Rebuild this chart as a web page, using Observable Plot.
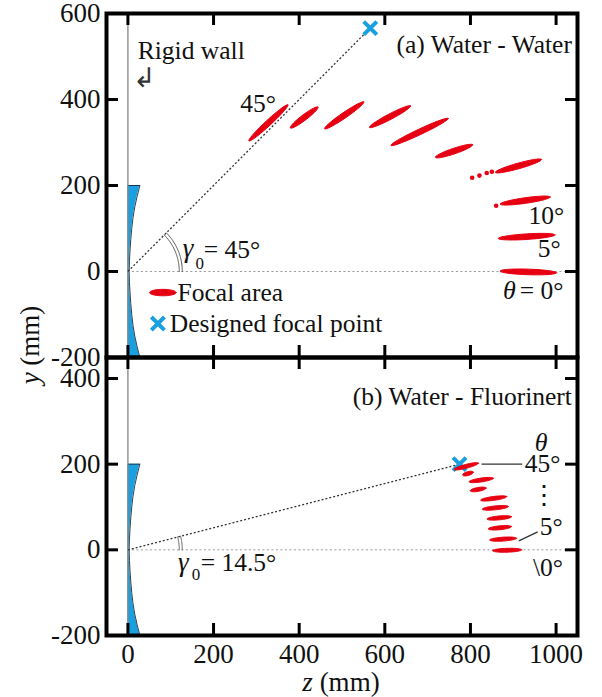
<!DOCTYPE html>
<html><head><meta charset="utf-8">
<script src="https://cdn.jsdelivr.net/npm/d3@7"></script>
<script src="https://cdn.jsdelivr.net/npm/@observablehq/plot@0.6"></script>
<style>
body{margin:0;background:#fff;}
#wrap{position:relative;width:602px;height:697px;font-family:"Liberation Serif","Times New Roman",serif;color:#111;}
#wrap > div.p{position:absolute;left:0;}
.lab{position:absolute;font-size:27px;white-space:nowrap;line-height:1;}
</style></head><body>
<div id="wrap">
 <div class="p" id="top" style="top:0"></div>
 <div class="p" id="bot" style="top:357px"></div>
 <div class="lab" style="left:341px;top:669px;transform:translateX(-50%)"><i>z</i> (mm)</div>
 <div class="lab" style="left:30px;top:345px;transform:translate(-50%,-50%) rotate(-90deg)"><i>y</i> (mm)</div>
</div>
<script>
// ---------- data ----------
const xTicks = [0, 200, 400, 600, 800, 1000];
const yTicksA = [-200, 0, 200, 400, 600];
const yTicksB = [-200, 0, 200, 400];

// acoustic lens profile (right surface), mm
const lensY = [-200, -150, -100, -50, 0, 50, 100, 150, 200];
const lensZ = [28, 16, 9, 5, 3, 5, 9, 16, 28];

// (a) Water - Water: focal areas (theta = 45 ... 0 deg), start/end of each spot
const thetaA = [45, 40, 35, 30, 25, 20, 15, 10, 5, 0];
const focA_z1 = [284, 381, 461, 566, 616, 720, 860, 871, 867, 871];
const focA_y1 = [305, 335, 333, 336, 294, 266, 231, 157, 77, 1];
const focA_z2 = [372, 442, 549, 658, 746, 803, 964, 984, 995, 999];
const focA_y2 = [386, 381, 393, 384, 355, 294, 260, 173, 85, -3];
const dotsA_z = [804, 821, 838, 850, 860];
const dotsA_y = [218, 223, 229, 232, 153];
const gammaA = 45, focalA = [566, 566];

// (b) Water - Fluorinert
const thetaB = [45, 40, 35, 30, 25, 20, 15, 10, 5, 0];
const focB_z1 = [763, 783, 798, 801, 825, 829, 840, 843, 846, 853];
const focB_y1 = [188, 175, 159, 138, 116, 95, 72, 49, 23, -2];
const focB_z2 = [817, 805, 852, 835, 883, 887, 894, 894, 906, 918];
const focB_y2 = [202, 181, 167, 144, 124, 101, 77, 54, 27, 0];
const gammaB = 14.5, focalB = [774.5, 200];

// annotation texts
const textsA = ["Rigid wall", "(a) Water - Water", "45°", "10°", "5°", "= 0°", "Focal area", "Designed focal point", "= 45°"];
const textsA_z = [23, 1037, 304, 977, 984, 915, 116, 98, 177];
const textsA_y = [514, 526, 391, 130, 53, -44, -49, -121, 51];
const textsA_anchor = ["start", "end", "middle", "middle", "middle", "start", "start", "start", "start"];
const textsB = ["(b) Water - Fluorinert", "45°", "⋮", "5°", "\\0°", "= 14.5°"];
const textsB_z = [1037, 927, 971, 962, 946, 170];
const textsB_y = [357, 200, 126, 54, -42, -30];
const textsB_anchor = ["end", "start", "middle", "start", "start", "start"];

// ---------- styles ----------
const RED = "#e60012", BLUE = "#1a9fe0", FONT = "Liberation Serif, Times New Roman, serif";
const lens = lensY.map((y, i) => ({y, z: lensZ[i]}));
const toRows = (th, z1, y1, z2, y2) => th.map((t, i) => ({t, z1: z1[i], y1: y1[i], z2: z2[i], y2: y2[i]}));
const focA = toRows(thetaA, focA_z1, focA_y1, focA_z2, focA_y2);
const focB = toRows(thetaB, focB_z1, focB_y1, focB_z2, focB_y2);
const arc = (g, r) => d3.range(0, 41).map(k => { const a = g * k / 40 * Math.PI / 180; return {z: r * Math.cos(a), y: r * Math.sin(a)}; });
const txt = (t, z, y, a) => t.map((s, i) => ({s, z: z[i], y: y[i], a: a[i]}));
const textMarks = (rows, size) => ["start", "middle", "end"].map(a =>
  Plot.text(rows.filter(d => d.a === a), {x: "z", y: "y", text: "s", textAnchor: a, fontSize: size, fill: "#111"}));
// elliptical spot outline between the two read end points; half-width b in mm
function spot(rows, b) {
  const pts = [];
  rows.forEach((d, i) => {
    const cz = (d.z1 + d.z2) / 2, cy = (d.y1 + d.y2) / 2;
    const L = Math.hypot(d.z2 - d.z1, d.y2 - d.y1), uz = (d.z2 - d.z1) / L, uy = (d.y2 - d.y1) / L;
    const a = L / 2 + b * 0.3;
    for (let k = 0; k <= 36; k++) {
      const t = k / 36 * 2 * Math.PI, c = Math.cos(t) * a, s = Math.sin(t) * b;
      pts.push({id: i, z: cz + c * uz - s * uy, y: cy + c * uy + s * uz});
    }
  });
  return Plot.line(pts, {x: "z", y: "y", z: "id", fill: RED, stroke: RED, strokeWidth: 1, curve: "linear-closed"});
}

function common(yTicks, innerH, gamma, focal) {
  const W = 471;
  return [
    Plot.areaX(lens, {y: "y", x: "z", fill: BLUE, curve: "natural"}),
    Plot.line(lens, {x: "z", y: "y", stroke: "#1b2b3a", strokeWidth: 0.9, curve: "natural"}),
    Plot.link([lens[lens.length - 1]], {x1: 0, y1: "y", x2: "z", y2: "y", stroke: "#1b2b3a", strokeWidth: 0.9}),
    Plot.ruleX([0], {stroke: "#888", strokeWidth: 1.3}),
    Plot.ruleY([0], {x1: 0, x2: 1050, stroke: "#999", strokeWidth: 1, strokeDasharray: "2,2.5"}),
    Plot.link([focal], {x1: 0, y1: 0, x2: d => d[0], y2: d => d[1], stroke: "#333", strokeWidth: 1.3, strokeDasharray: "2,2"}),
    Plot.line(arc(gamma, 120), {x: "z", y: "y", stroke: "#555", strokeWidth: 1}),
    Plot.line(arc(gamma, 127), {x: "z", y: "y", stroke: "#555", strokeWidth: 1}),
    Plot.dot([focal], {x: d => d[0], y: d => d[1], symbol: "times", r: 6, stroke: BLUE, strokeWidth: 4}),
    Plot.frame({stroke: "#000", strokeWidth: 4}),
    Plot.ruleX(xTicks, {insetTop: innerH - 12, stroke: "#000", strokeWidth: 3}),
    Plot.ruleX(xTicks, {insetBottom: innerH - 12, stroke: "#000", strokeWidth: 3}),
    Plot.ruleY(yTicks, {insetLeft: W - 12, stroke: "#000", strokeWidth: 3}),
    Plot.ruleY(yTicks, {insetRight: W - 12, stroke: "#000", strokeWidth: 3}),
    Plot.axisY(yTicks, {tickSize: 0, tickPadding: 6, fontSize: 27, tickFormat: d => String(d), label: null, fill: "#111"})
  ];
}

const topPlot = Plot.plot({
  width: 602, height: 357,
  marginLeft: 106, marginRight: 25, marginTop: 13, marginBottom: 0,
  x: {domain: [-50, 1050], axis: null},
  y: {domain: [-200, 600], axis: null},
  style: {overflow: "visible", background: "transparent", fontFamily: FONT},
  marks: [
    ...common(yTicksA, 344, gammaA, focalA),
    spot(focA, 6.5),
    Plot.dot(dotsA_z.map((z, i) => ({z, y: dotsA_y[i]})), {x: "z", y: "y", r: 2.3, fill: RED}),
    // legend
    spot([{z1: 53, z2: 110, y1: -49, y2: -49}], 7.5),
    Plot.dot([{z: 70, y: -121}], {x: "z", y: "y", symbol: "times", r: 6, stroke: BLUE, strokeWidth: 4}),
    ...textMarks(txt(textsA, textsA_z, textsA_y, textsA_anchor), 25.5),
    Plot.text([{z: 906, y: -44}], {x: "z", y: "y", text: () => "θ", textAnchor: "end", fontSize: 26, fontStyle: "italic", fill: "#111"}),
    Plot.text([{z: 128, y: 53}], {x: "z", y: "y", text: () => "γ", textAnchor: "start", fontSize: 27, fontStyle: "italic", fill: "#111"}),
    Plot.text([{z: 158, y: 19}], {x: "z", y: "y", text: () => "0", textAnchor: "start", fontSize: 17, fill: "#111"}),
    Plot.text([{z: 11, y: 450}], {x: "z", y: "y", text: () => "↲", textAnchor: "start", fontSize: 27, fontFamily: "DejaVu Sans", fontWeight: 300, fill: "#333"})
  ]
});
document.getElementById("top").append(topPlot);

const botPlot = Plot.plot({
  width: 602, height: 340,
  marginLeft: 106, marginRight: 25, marginTop: 0, marginBottom: 62,
  x: {domain: [-50, 1050], axis: null},
  y: {domain: [-200, 449], axis: null},
  style: {overflow: "visible", background: "transparent", fontFamily: FONT},
  marks: [
    ...common(yTicksB, 278, gammaB, focalB),
    spot(focB, 4.5),
    Plot.link([{z1: 826, y1: 200, z2: 921, y2: 200}, {z1: 913, y1: 21, z2: 957, y2: 42}], {x1: "z1", y1: "y1", x2: "z2", y2: "y2", stroke: "#333", strokeWidth: 1.3}),
    Plot.axisX(xTicks, {tickSize: 0, tickPadding: 8, fontSize: 27, tickFormat: d => String(d), label: null, fill: "#111"}),
    ...textMarks(txt(textsB, textsB_z, textsB_y, textsB_anchor), 25.5),
    Plot.text([{z: 965, y: 250}], {x: "z", y: "y", text: () => "θ", textAnchor: "middle", fontSize: 26, fontStyle: "italic", fill: "#111"}),
    Plot.text([{z: 117, y: -30}], {x: "z", y: "y", text: () => "γ", textAnchor: "start", fontSize: 27, fontStyle: "italic", fill: "#111"}),
    Plot.text([{z: 149, y: -58}], {x: "z", y: "y", text: () => "0", textAnchor: "start", fontSize: 17, fill: "#111"})
  ]
});
document.getElementById("bot").append(botPlot);
</script>
</body></html>
